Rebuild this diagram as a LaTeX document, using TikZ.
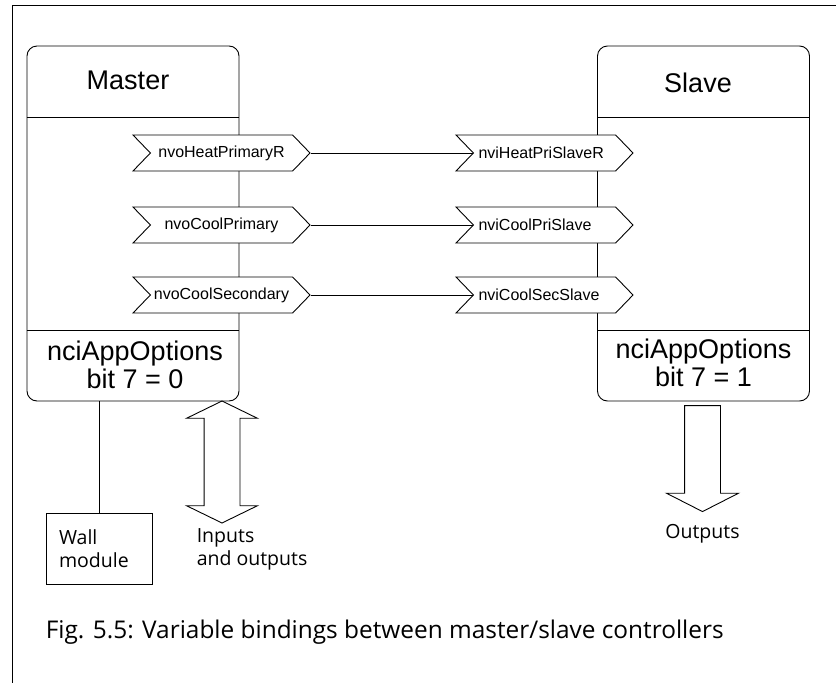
\documentclass[tikz,border=0pt]{standalone}
\usepackage{fontspec}
\setmainfont{Liberation Sans}
\newfontfamily\capfont{Open Sans}
\usetikzlibrary{positioning,shapes.symbols,shapes.arrows}

\begin{document}
\begin{tikzpicture}[x=1pt,y=-1pt,line width=0.9pt,
			ctrl/.style={draw,rounded corners=10pt,minimum width=212pt,
				minimum height=355pt,inner sep=0pt},
			var/.style={draw,fill=white,signal,signal from=west,signal to=east,
				signal pointer angle=92,minimum width=177pt,minimum height=36pt,
				inner sep=0pt,font=\fontsize{16}{18}\selectfont},
			big/.style={font=\fontsize{27}{28}\selectfont,align=center},
			small/.style={font=\capfont\fontsize{19.5}{23}\selectfont,align=left},
			fat/.style={draw,inner xsep=0pt,inner ysep=17.5pt}]
	\useasboundingbox (0,0) rectangle (836,683);
	\draw (12,683) -- (12,5) -- (836,5);

	% controllers
	\node[ctrl]	(master)	at (133,223.5)	{};
	\node[ctrl]	(slave)		at (703.5,223.5)	{};
	\foreach \b in {master,slave}{
		\draw (\b.west |- 0,117) -- (\b.east |- 0,117);
		\draw (\b.west |- 0,330) -- (\b.east |- 0,330);
	}
	\node[big,anchor=base]	(masterName)	at (128,89)	{Master};
	\node[big,anchor=base]	(slaveName)	at (698,92)	{Slave};
	\node[big,anchor=base]	(masterOpt)	at (135,388)	{nciAppOptions\\bit 7 = 0};
	\node[big,anchor=base]	(slaveOpt)	at (703.5,386)	{nciAppOptions\\bit 7 = 1};

	% network variables
	\node[var]	(mHeat)	at (221.5,153)	{nvoHeatPrimaryR};
	\node[var]	(mCool)	at (221.5,225)	{nvoCoolPrimary};
	\node[var]	(mSec)	at (221.5,295)	{nvoCoolSecondary};
	\node[var]	(sHeat)	at (544.5,153)	{\makebox[132pt][l]{nviHeatPriSlaveR}};
	\node[var]	(sCool)	at (544.5,225)	{\makebox[132pt][l]{nviCoolPriSlave}};
	\node[var]	(sSec)	at (544.5,295)	{\makebox[132pt][l]{nviCoolSecSlave}};

	\path	(mHeat.east)	edge	(sHeat.west)
		(mCool.east)	edge	(sCool.west)
		(mSec.east)	edge	(sSec.west);

	% wall module and I/O
	\node[draw,small,minimum width=106pt,minimum height=71pt,text width=80pt,
		inner xsep=13pt]	(wall)	at (99,548.5)	{Wall\\module};
	\draw (wall.north) -- (wall.north |- master.south);

	\node[fat,double arrow,rotate=90,minimum height=122pt,minimum width=70pt,
		double arrow head extend=17.5pt,double arrow tip angle=128]
		(io)	at (222,462)	{};
	\node[small,anchor=base west]	(ioTxt)	at (193,565)	{Inputs\\and outputs};

	\node[fat,single arrow,rotate=-90,minimum height=106pt,minimum width=71pt,
		single arrow head extend=18pt,single arrow tip angle=126]
		(out)	at (702.5,454)	{};
	\node[small,anchor=base]	(outTxt)	at (702.5,538)	{Outputs};

	\node[font=\capfont\fontsize{24.4}{28}\selectfont,anchor=base west]	(caption)	at (42,638)
		{Fig. 5.5: Variable bindings between master/slave controllers};
\end{tikzpicture}
\end{document}
